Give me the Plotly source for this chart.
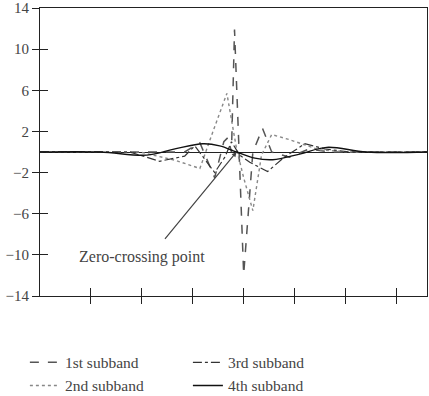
import plotly.graph_objects as go

# sample positions (x units) and values
x1 = [0, 21.6, 28.4, 31.4, 34.3, 36.1, 36.9, 37.6, 38.2, 40.0, 41.8, 43.7, 45.5, 49.0, 52.9, 56.9, 76]
y1 = [0, 0, 0, 0.9, -2.5, 1.0, 1.4, 0.0, 11.9, -11.9, 0.0, 2.3, 0.0, -0.5, 0.3, 0.0, 0]

x2 = [0, 19.6, 26.5, 31.4, 33.9, 36.7, 38.6, 40.0, 41.8, 43.5, 45.5, 49.0, 54.9, 60.8, 76]
y2 = [0, 0, -0.8, -1.6, 1.9, 5.7, 0.3, -2.5, -5.7, -0.3, 1.7, 1.2, 0.2, 0, 0]

x3 = [0, 17.6, 23.5, 28.4, 30.4, 34.3, 36.3, 37.6, 39.2, 41.2, 44.7, 48.0, 52.0, 55.9, 60.8, 76]
y3 = [0, 0, -0.9, -0.4, 0.6, -2.0, -0.5, 1.0, -0.3, -1.0, -1.9, -0.5, 0.8, 0.3, 0, 0]

x4 = [0, 11.8, 21.0, 26.5, 32.0, 35.3, 38.6, 42.2, 45.7, 51.0, 56.3, 64.1, 76]
y4 = [0, 0, -0.3, 0.3, 0.8, 0.6, 0, -0.6, -0.75, -0.2, 0.45, 0, 0]

names = ["1st subband", "2nd subband", "3rd subband", "4th subband"]
y_ticks = [-14, -10, -6, -2, 2, 6, 10, 14]
x_ticks = [10, 20, 30, 40, 50, 60, 70]

FONT = "'Liberation Serif', 'Times New Roman', 'DejaVu Serif', serif"
TXT = "#444444"
fig = go.Figure()
fig.add_trace(go.Scatter(x=x1, y=y1, mode="lines", name=names[0], legend="legend",
                         line=dict(color="#555555", width=1.5, dash="dash")))
fig.add_trace(go.Scatter(x=x2, y=y2, mode="lines", name=names[1], legend="legend",
                         line=dict(color="#888888", width=1.4, dash="dot")))
fig.add_trace(go.Scatter(x=x3, y=y3, mode="lines", name=names[2], legend="legend2",
                         line=dict(color="#333333", width=1.2, dash="dashdot")))
fig.add_trace(go.Scatter(x=x4, y=y4, mode="lines", name=names[3], legend="legend2",
                         line=dict(color="#111111", width=1.4, shape="spline")))

# arrow and label
fig.add_annotation(x=38.6, y=0, ax=24.3, ay=-8.6, xref="x", yref="y", axref="x", ayref="y",
                   text="", showarrow=True, arrowhead=2, arrowsize=0.8, arrowwidth=1.2,
                   arrowcolor="#444444")
fig.add_annotation(x=7.2, y=-10.2, xref="x", yref="y", text="Zero-crossing point",
                   showarrow=False, xanchor="left", yanchor="middle",
                   font=dict(family=FONT, size=16, color=TXT))

fig.update_layout(
    width=429, height=396,
    margin=dict(l=40, r=2, t=8, b=100, autoexpand=False),
    plot_bgcolor="white", paper_bgcolor="white",
    font=dict(family=FONT, size=13, color=TXT),
    xaxis=dict(range=[0, 76], tickvals=x_ticks, showticklabels=False, ticks="outside",
               ticklen=7, tickcolor="#222", tickwidth=1.2, showline=True, mirror=True,
               linecolor="#222", linewidth=1.2, showgrid=False, zeroline=False),
    yaxis=dict(range=[-14, 14], tickvals=y_ticks, ticktext=[str(v).replace("-", "\u2212") for v in y_ticks],
               ticks="outside", ticklen=7, tickcolor="#222", tickwidth=1.2,
               showline=True, mirror=True, linecolor="#222", linewidth=1.2, showgrid=False,
               zeroline=True, zerolinecolor="#222", zerolinewidth=1,
               tickfont=dict(family=FONT, size=15, color=TXT)),
    xaxis2=dict(range=[0, 76], tickvals=x_ticks, showticklabels=False, ticks="inside",
                ticklen=8, tickcolor="#222", tickwidth=1.2, overlaying="x", showline=False,
                showgrid=False, zeroline=False, anchor="y"),
    yaxis2=dict(range=[-14, 14], tickvals=y_ticks, showticklabels=False, ticks="inside",
                ticklen=8, tickcolor="#222", tickwidth=1.2, overlaying="y", showline=False,
                showgrid=False, zeroline=False, anchor="x"),
    legend=dict(x=0.058, y=0.127, xref="container", yref="container", xanchor="left",
                yanchor="top", orientation="v",
                font=dict(family=FONT, size=15.5, color=TXT), itemwidth=30,
                bgcolor="rgba(0,0,0,0)", tracegroupgap=0),
    legend2=dict(x=0.438, y=0.127, xref="container", yref="container", xanchor="left",
                 yanchor="top", orientation="v",
                 font=dict(family=FONT, size=15.5, color=TXT), itemwidth=30,
                 bgcolor="rgba(0,0,0,0)", tracegroupgap=0),
)
# dummy trace to activate secondary axes
fig.add_trace(go.Scatter(x=[None], y=[None], xaxis="x2", yaxis="y2", showlegend=False,
                         hoverinfo="skip"))
fig.write_html("out.html")
